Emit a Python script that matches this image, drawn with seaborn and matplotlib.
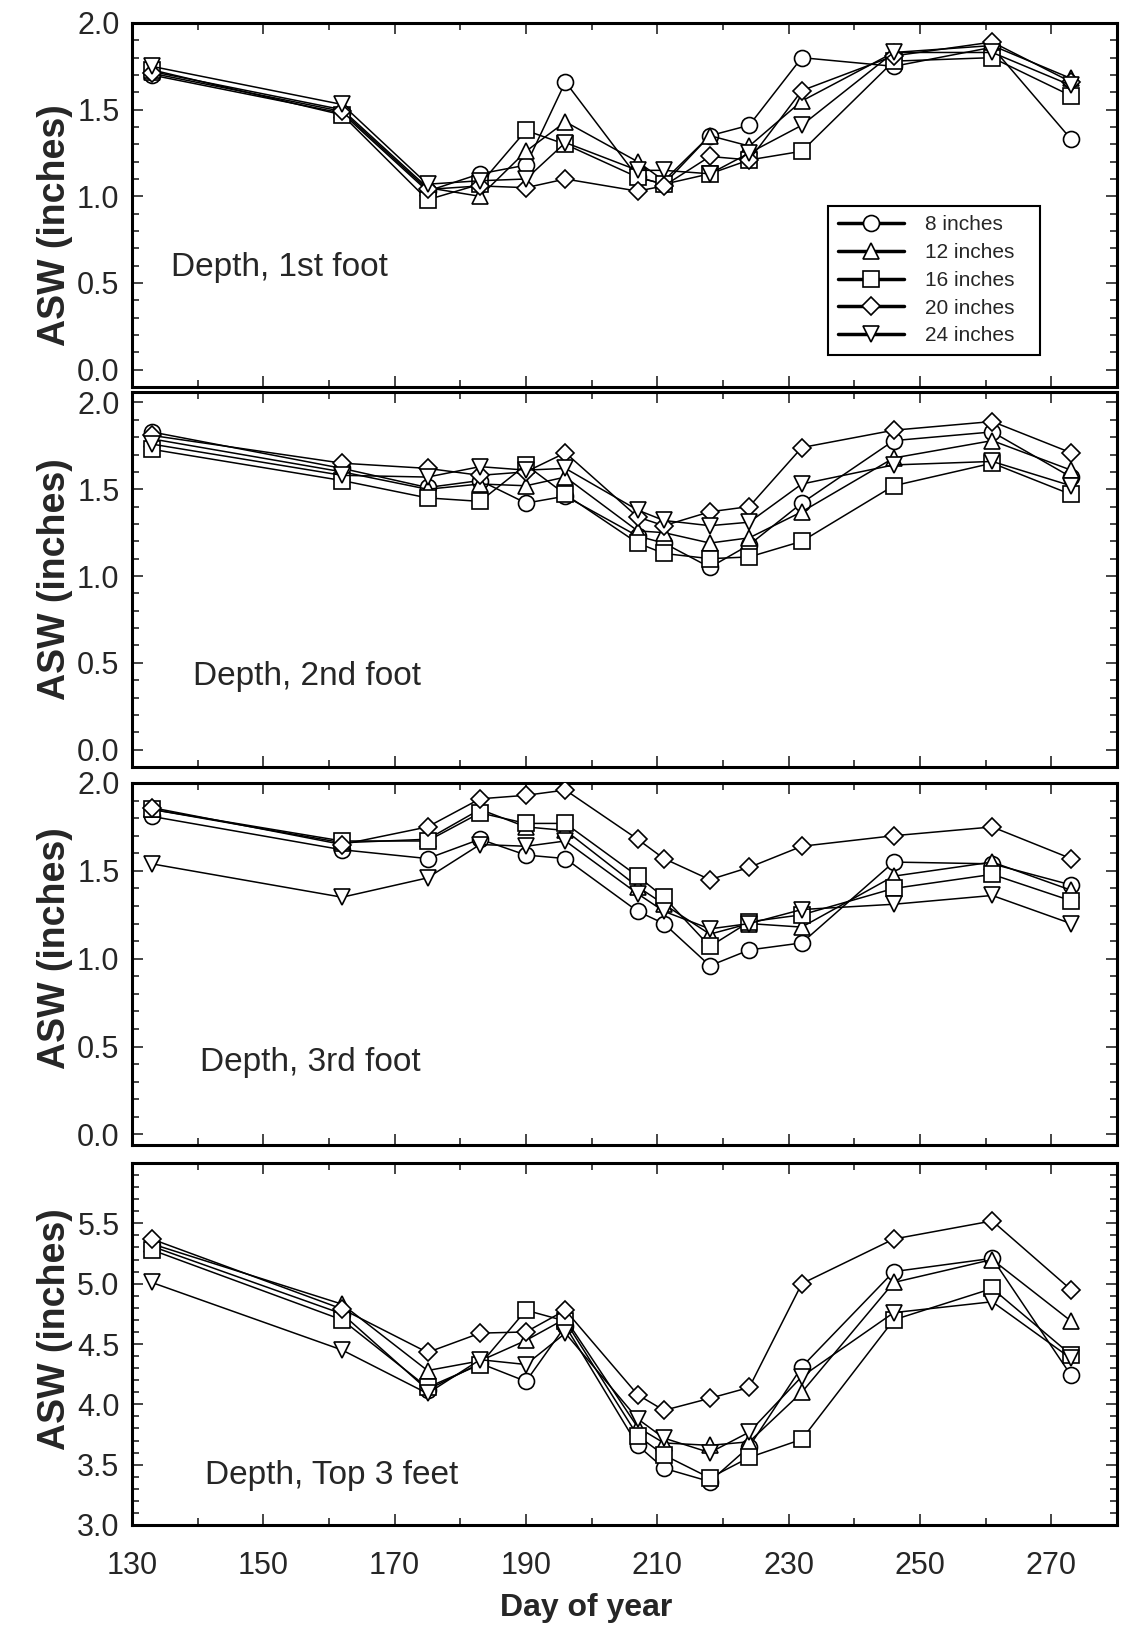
import numpy as np
import pandas as pd
import matplotlib
matplotlib.use('Agg')
import matplotlib.pyplot as plt
import seaborn as sb
from matplotlib.lines import Line2D
from matplotlib.ticker import MultipleLocator, FixedLocator

# Sampling days (day of year)
days = [133, 162, 175, 183, 190, 196, 207, 211, 218, 224, 232, 246, 261, 273]
depth_labels = ['8 inches', '12 inches', '16 inches', '20 inches', '24 inches']

# ASW (inches), 1st foot
foot1_8in = [1.70, 1.48, 1.03, 1.13, 1.18, 1.66, 1.11, 1.07, 1.35, 1.41, 1.80, 1.75, 1.86, 1.33]
foot1_12in = [1.72, 1.50, 1.05, 1.00, 1.26, 1.43, 1.20, 1.09, 1.35, 1.29, 1.55, 1.83, 1.87, 1.68]
foot1_16in = [1.73, 1.47, 0.98, 1.07, 1.38, 1.30, 1.11, 1.07, 1.13, 1.21, 1.26, 1.78, 1.80, 1.58]
foot1_20in = [1.71, 1.49, 1.04, 1.06, 1.05, 1.10, 1.03, 1.06, 1.23, 1.21, 1.61, 1.81, 1.89, 1.66]
foot1_24in = [1.75, 1.53, 1.07, 1.09, 1.10, 1.31, 1.15, 1.15, 1.13, 1.25, 1.41, 1.83, 1.83, 1.64]

# 2nd foot
foot2_8in = [1.83, 1.62, 1.51, 1.55, 1.42, 1.46, 1.23, 1.19, 1.05, 1.18, 1.42, 1.78, 1.83, 1.57]
foot2_12in = [1.79, 1.60, 1.50, 1.53, 1.52, 1.57, 1.26, 1.25, 1.19, 1.22, 1.37, 1.68, 1.78, 1.61]
foot2_16in = [1.73, 1.55, 1.45, 1.43, 1.64, 1.47, 1.19, 1.13, 1.10, 1.11, 1.20, 1.52, 1.65, 1.47]
foot2_20in = [1.81, 1.65, 1.62, 1.58, 1.60, 1.71, 1.34, 1.29, 1.37, 1.40, 1.74, 1.84, 1.89, 1.71]
foot2_24in = [1.76, 1.58, 1.57, 1.63, 1.61, 1.62, 1.38, 1.32, 1.29, 1.31, 1.53, 1.64, 1.66, 1.52]

# 3rd foot
foot3_8in = [1.81, 1.62, 1.57, 1.68, 1.59, 1.57, 1.27, 1.20, 0.96, 1.05, 1.09, 1.55, 1.54, 1.42]
foot3_12in = [1.85, 1.66, 1.68, 1.85, 1.75, 1.73, 1.41, 1.31, 1.14, 1.20, 1.18, 1.47, 1.55, 1.39]
foot3_16in = [1.85, 1.67, 1.67, 1.83, 1.77, 1.77, 1.47, 1.35, 1.07, 1.21, 1.25, 1.40, 1.48, 1.33]
foot3_20in = [1.86, 1.65, 1.75, 1.91, 1.93, 1.96, 1.68, 1.57, 1.45, 1.52, 1.64, 1.70, 1.75, 1.57]
foot3_24in = [1.54, 1.35, 1.46, 1.65, 1.64, 1.67, 1.37, 1.27, 1.17, 1.20, 1.28, 1.31, 1.36, 1.20]

# Top 3 feet
top3_8in = [5.31, 4.75, 4.12, 4.34, 4.19, 4.65, 3.66, 3.47, 3.36, 3.65, 4.31, 5.10, 5.21, 4.24]
top3_12in = [5.33, 4.83, 4.28, 4.36, 4.53, 4.71, 3.81, 3.68, 3.66, 3.69, 4.10, 5.01, 5.20, 4.69]
top3_16in = [5.28, 4.70, 4.14, 4.33, 4.78, 4.69, 3.74, 3.58, 3.39, 3.56, 3.71, 4.70, 4.96, 4.41]
top3_20in = [5.37, 4.79, 4.43, 4.59, 4.60, 4.78, 4.08, 3.95, 4.05, 4.14, 5.00, 5.37, 5.52, 4.95]
top3_24in = [5.01, 4.45, 4.09, 4.37, 4.33, 4.59, 3.88, 3.72, 3.60, 3.77, 4.23, 4.76, 4.85, 4.38]

panels = [
    ('Depth, 1st foot', [foot1_8in, foot1_12in, foot1_16in, foot1_20in, foot1_24in]),
    ('Depth, 2nd foot', [foot2_8in, foot2_12in, foot2_16in, foot2_20in, foot2_24in]),
    ('Depth, 3rd foot', [foot3_8in, foot3_12in, foot3_16in, foot3_20in, foot3_24in]),
    ('Depth, Top 3 feet', [top3_8in, top3_12in, top3_16in, top3_20in, top3_24in]),
]

# marker styles per depth
markers = ['o', '^', 's', 'D', 'v']
msizes = [11.5, 11.5, 11.5, 9, 11.5]

sb.set_style('ticks')
plt.rcParams['font.family'] = ['Liberation Sans', 'DejaVu Sans']

W, H = 1127, 1637
fig = plt.figure(figsize=(W / 100, H / 100), dpi=100)

# axes boxes in pixels: (top, bottom)
boxes = [(23, 387), (392, 767), (783, 1145), (1163, 1525)]
left_px, right_px = 132, 1117
ylims = [(-0.1, 2.0), (-0.1, 2.06), (-0.06, 2.0), (3.0, 6.0)]
text_pos = [(0.040, 0.327), (0.062, 0.24), (0.069, 0.227), (0.074, 0.138)]
ylabel_y = [0.446, 0.50, 0.544, 0.54]

axes = []
for i, (title, series) in enumerate(panels):
    top, bot = boxes[i]
    ax = fig.add_axes([left_px / W, 1 - bot / H, (right_px - left_px) / W, (bot - top) / H])
    axes.append(ax)

    df = pd.DataFrame({'day': np.tile(days, len(depth_labels)),
                       'asw': np.concatenate(series),
                       'depth': np.repeat(depth_labels, len(days))})
    for j, lab in enumerate(depth_labels):
        sub = df[df['depth'] == lab]
        sb.lineplot(data=sub, x='day', y='asw', ax=ax, color='black', linewidth=1.1,
                    marker=markers[j], markersize=msizes[j], markerfacecolor='white',
                    markeredgecolor='black', markeredgewidth=1.2, errorbar=None,
                    legend=False, zorder=3 + j)

    ax.set_xlim(130, 280)
    ax.set_ylim(*ylims[i])
    ax.xaxis.set_major_locator(FixedLocator([130, 150, 170, 190, 210, 230, 250, 270]))
    ax.xaxis.set_minor_locator(MultipleLocator(10))
    if i < 3:
        ax.yaxis.set_major_locator(FixedLocator([0.0, 0.5, 1.0, 1.5, 2.0]))
    else:
        ax.yaxis.set_major_locator(FixedLocator([3.0, 3.5, 4.0, 4.5, 5.0, 5.5]))
    ax.yaxis.set_minor_locator(MultipleLocator(0.1))
    ax.yaxis.set_major_formatter(matplotlib.ticker.FormatStrFormatter('%.1f'))

    ax.tick_params(which='both', direction='in', top=True, right=True, width=1.2)
    ax.tick_params(which='major', length=8, labelsize=22)
    ax.tick_params(which='minor', length=5)
    ax.tick_params(axis='y', pad=9)
    ax.tick_params(axis='x', pad=19)
    if i < 3:
        ax.tick_params(axis='x', labelbottom=False)
    for sp in ax.spines.values():
        sp.set_linewidth(2.2)
        sp.set_color('black')

    ax.set_xlabel('')
    ax.set_ylabel('ASW (inches)', fontsize=27, fontweight='bold')
    ax.yaxis.set_label_coords(-0.060, ylabel_y[i])

    ax.text(text_pos[i][0], text_pos[i][1], title, transform=ax.transAxes,
            fontsize=24, ha='left', va='center')

# Legend in first panel
handles = [Line2D([], [], color='black', linewidth=2.5, marker=m, markersize=s,
                  markerfacecolor='white', markeredgecolor='black', markeredgewidth=1.2)
           for m, s in zip(markers, msizes)]
leg = axes[0].legend(handles, depth_labels, loc='upper left',
                     bbox_to_anchor=(0.707, 0.067, 0.215, 0.43), mode='expand',
                     fontsize=15, frameon=True, fancybox=False, shadow=False,
                     handlelength=3.2, handletextpad=1.0, labelspacing=0.42,
                     borderpad=0.45, borderaxespad=0)
leg.get_frame().set_edgecolor('black')
leg.get_frame().set_linewidth(1.5)
leg.get_frame().set_alpha(1)
leg.set_zorder(10)

fig.text(586 / W, 1 - 1608 / H, 'Day of year', fontsize=23, fontweight='bold',
         ha='center', va='center')

plt.savefig('out.png', dpi=100)
